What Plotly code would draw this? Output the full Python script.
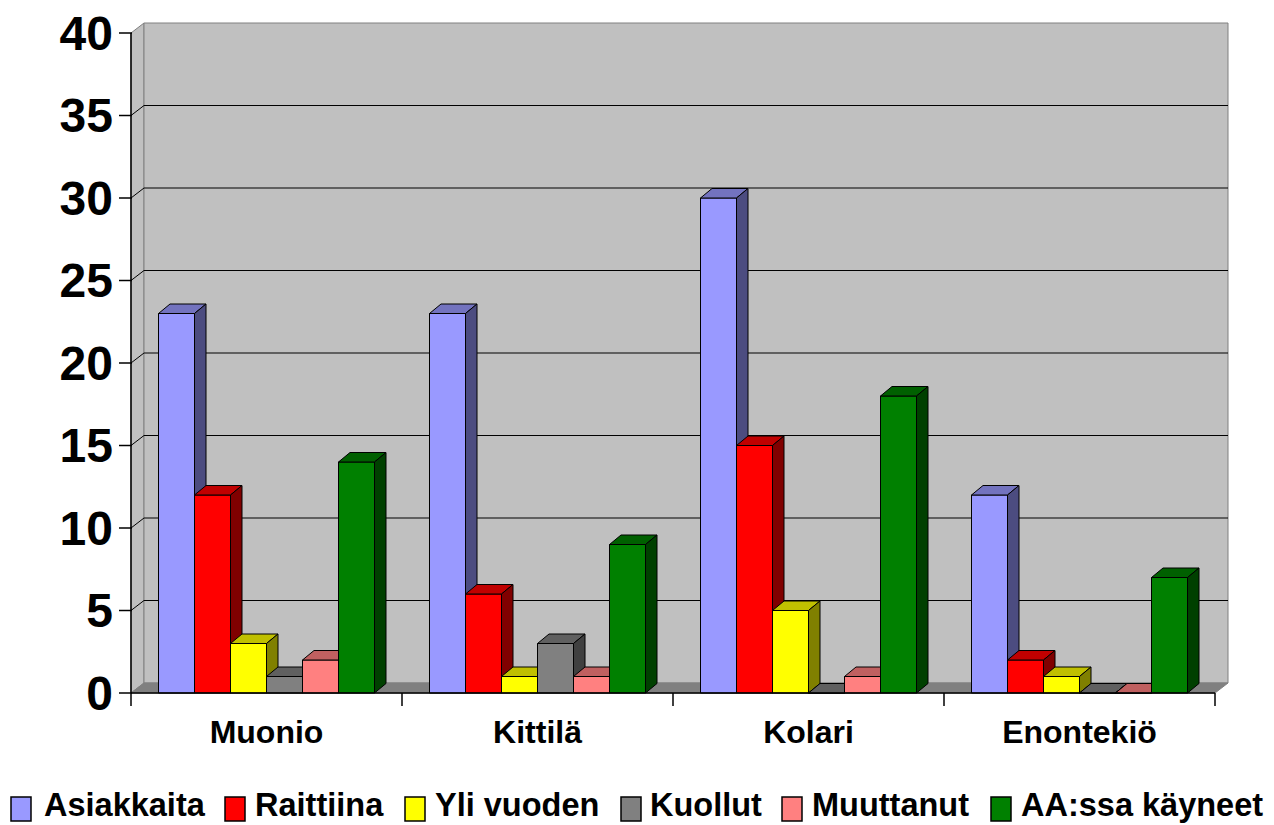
import plotly.graph_objects as go

# ---------------- data ----------------
categories = ["Muonio", "Kittilä", "Kolari", "Enontekiö"]
series_names = ["Asiakkaita", "Raittiina", "Yli vuoden", "Kuollut", "Muuttanut", "AA:ssa käyneet"]
asiakkaita = [23, 23, 30, 12]
raittiina = [12, 6, 15, 2]
yli_vuoden = [3, 1, 5, 1]
kuollut = [1, 3, 0, 0]
muuttanut = [2, 1, 1, 0]
aa_kayneet = [14, 9, 18, 7]
y_ticks = [0, 5, 10, 15, 20, 25, 30, 35, 40]

series_values = [asiakkaita, raittiina, yli_vuoden, kuollut, muuttanut, aa_kayneet]

front_colors = ["#9999FF", "#FF0000", "#FFFF00", "#808080", "#FF8080", "#008000"]
top_colors = ["#7373BF", "#C00000", "#C0C000", "#606060", "#C06060", "#006000"]
side_colors = ["#4C4C80", "#800000", "#808000", "#404040", "#804040", "#004000"]

# ---------------- geometry (pixel layout) ----------------
PX = 271.0      # pixels per category unit
PY = 16.5       # pixels per value unit
L, T, W, H = 128, 20, 1103, 676
FIG_W, FIG_H = 1274, 825
WDX, WDY = 13 / PX, 10 / PY      # wall depth
BDX, BDY = 11.5 / PX, 9.5 / PY   # bar depth
BW = 36 / PX                      # bar width
YMAX = 40

x_lo = -0.5 - 3 / PX
y_lo = -3 / PY
x_range = [x_lo, x_lo + W / PX]
y_range = [y_lo, y_lo + H / PY]


def px_x(p):
    return (p - L) / W


def px_y(q):
    return (T + H - q) / H


FONT = "Liberation Sans, Arial, sans-serif"

fig = go.Figure()

# ---------------- bars (front, top, side faces) ----------------
n = len(series_names)
for s in range(n):
    fx, fy, tx, ty, sx, sy = [], [], [], [], [], []
    for c in range(len(categories)):
        h = series_values[s][c]
        x0 = c - n / 2 * BW + s * BW
        x1 = x0 + BW
        fx += [x0, x1, x1, x0, x0, None]
        fy += [0, 0, h, h, 0, None]
        tx += [x0, x1, x1 + BDX, x0 + BDX, x0, None]
        ty += [h, h, h + BDY, h + BDY, h, None]
        sx += [x1, x1 + BDX, x1 + BDX, x1, x1, None]
        sy += [0, BDY, h + BDY, h, 0, None]
    for xs, ys, col in ((fx, fy, front_colors[s]), (tx, ty, top_colors[s]), (sx, sy, side_colors[s])):
        fig.add_trace(go.Scatter(
            x=xs, y=ys, mode="lines", fill="toself", fillcolor=col,
            line=dict(color="black", width=1), hoverinfo="skip",
            showlegend=False, name=series_names[s]))

shapes = []


def path(pts):
    return "M " + " L ".join(f"{x},{y}" for x, y in pts) + " Z"


# walls and floor
shapes.append(dict(type="path", xref="x", yref="y", layer="below",
                   path=path([(-0.5, 0), (-0.5, YMAX), (-0.5 + WDX, YMAX + WDY), (-0.5 + WDX, WDY)]),
                   fillcolor="#C0C0C0", line=dict(color="#808080", width=1)))
shapes.append(dict(type="path", xref="x", yref="y", layer="below",
                   path=path([(-0.5 + WDX, WDY), (3.5 + WDX, WDY), (3.5 + WDX, YMAX + WDY), (-0.5 + WDX, YMAX + WDY)]),
                   fillcolor="#C0C0C0", line=dict(color="#808080", width=1)))
shapes.append(dict(type="path", xref="x", yref="y", layer="below",
                   path=path([(-0.5, 0), (3.5, 0), (3.5 + WDX, WDY), (-0.5 + WDX, WDY)]),
                   fillcolor="#808080", line=dict(color="#808080", width=1)))

# gridlines
for v in y_ticks[1:-1]:
    shapes.append(dict(type="line", xref="x", yref="y", layer="below",
                       x0=-0.5 + WDX, x1=3.5 + WDX, y0=v + WDY, y1=v + WDY,
                       line=dict(color="black", width=1)))
    shapes.append(dict(type="line", xref="x", yref="y", layer="below",
                       x0=-0.5, x1=-0.5 + WDX, y0=v, y1=v + WDY,
                       line=dict(color="black", width=1)))

# front axis lines
shapes.append(dict(type="line", xref="x", yref="y", layer="above",
                   x0=-0.5, x1=-0.5, y0=0, y1=YMAX, line=dict(color="black", width=1.5)))
shapes.append(dict(type="line", xref="x", yref="y", layer="above",
                   x0=-0.5, x1=3.5, y0=0, y1=0, line=dict(color="black", width=1.5)))

# tick marks
for v in y_ticks:
    shapes.append(dict(type="line", xref="paper", yref="y", layer="above",
                       x0=px_x(119), x1=px_x(132), y0=v, y1=v,
                       line=dict(color="black", width=1.5)))
for i in range(len(categories) + 1):
    shapes.append(dict(type="line", xref="x", yref="paper", layer="above",
                       x0=-0.5 + i, x1=-0.5 + i, y0=px_y(693), y1=px_y(706),
                       line=dict(color="black", width=1.5)))

# ---------------- legend (manual) ----------------
legend_square_x = [11, 225, 405, 621, 782, 991]
legend_text_x = [44, 255, 435, 650, 812, 1021]
annotations = []
for s in range(n):
    shapes.append(dict(type="rect", xref="paper", yref="paper", layer="above",
                       x0=px_x(legend_square_x[s]), x1=px_x(legend_square_x[s] + 20),
                       y0=px_y(821), y1=px_y(797),
                       fillcolor=front_colors[s], line=dict(color="black", width=1.5)))
    annotations.append(dict(xref="paper", yref="paper", x=px_x(legend_text_x[s] - 2), y=px_y(805),
                            xanchor="left", yanchor="middle", showarrow=False,
                            text=series_names[s],
                            font=dict(family=FONT, size=32.5, color="black", weight="bold")))

fig.update_layout(
    width=FIG_W, height=FIG_H,
    margin=dict(l=L, r=FIG_W - L - W, t=T, b=FIG_H - T - H, pad=0),
    paper_bgcolor="white", plot_bgcolor="white",
    showlegend=False,
    shapes=shapes, annotations=annotations,
    xaxis=dict(range=x_range, showgrid=False, zeroline=False, showline=False,
               tickmode="array", tickvals=list(range(len(categories))), ticktext=categories,
               ticks="", ticklabelstandoff=14, automargin=False,
               tickfont=dict(family=FONT, size=32, color="black", weight="bold")),
    yaxis=dict(range=y_range, showgrid=False, zeroline=False, showline=False,
               tickmode="array", tickvals=y_ticks, ticks="", ticklabelstandoff=14,
               automargin=False,
               tickfont=dict(family=FONT, size=48, color="black", weight="bold")),
)

fig.write_html("out.html")
